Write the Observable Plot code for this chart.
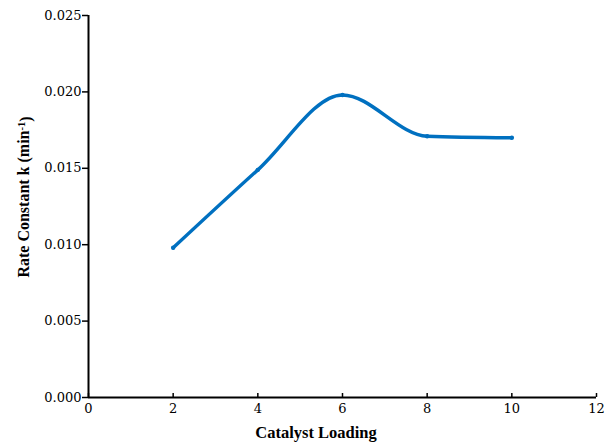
<!DOCTYPE html>
<html>
<head>
<meta charset="utf-8">
<script src="https://cdn.jsdelivr.net/npm/d3@7"></script>
<script src="https://cdn.jsdelivr.net/npm/@observablehq/plot@0.6"></script>
<style>
  html, body { margin: 0; padding: 0; background: #fff; }
</style>
</head>
<body>
<div id="chart"></div>
<script>
const loading = [2, 4, 6, 8, 10];
const rateK = [0.0098, 0.0149, 0.0198, 0.0171, 0.0170];
const xTicks = [0, 2, 4, 6, 8, 10, 12];
const yTicks = [0, 0.005, 0.010, 0.015, 0.020, 0.025];
const xLabel = "Catalyst Loading";
const yLabelMain = "Rate Constant k (min";
const yLabelSup = "-1";
const yLabelEnd = ")";

const data = loading.map((x, i) => ({x, y: rateK[i]}));
const serif = "'DejaVu Serif', 'Liberation Serif', serif";
const titleFont = "'Liberation Serif', 'DejaVu Serif', serif";

const chart = Plot.plot({
  width: 616,
  height: 444,
  marginLeft: 88,
  marginRight: 20,
  marginTop: 15,
  marginBottom: 47,
  style: {fontFamily: serif, fontSize: "13px", color: "#000", background: "#fff"},
  x: {domain: [0, 12]},
  y: {domain: [0, 0.025]},
  marks: [
    Plot.axisY({ticks: yTicks, tickFormat: d3.format(".3f"), tickSize: 6, tickPadding: 1,
      label: null, stroke: "#000", strokeWidth: 1.5}),
    Plot.axisX({ticks: xTicks, tickSize: 4, dy: -4, tickFormat: () => "", label: null, stroke: "#000", strokeWidth: 1.5}),
    Plot.axisX({ticks: xTicks, tickSize: 0, tickPadding: 6, tickFormat: d3.format("d"), label: null}),
    Plot.ruleX([0], {stroke: "#000", strokeWidth: 2}),
    Plot.ruleY([0], {stroke: "#000", strokeWidth: 2}),
    Plot.line(data, {x: "x", y: "y", curve: "monotone-x", stroke: "#0070C0", strokeWidth: 3.5, strokeLinecap: "round"}),
    Plot.dot(data, {x: "x", y: "y", r: 2.2, fill: "#0070C0"})
  ]
});

const svg = d3.select(chart);
svg.append("text")
  .attr("x", 316).attr("y", 438)
  .attr("text-anchor", "middle")
  .style("font-family", titleFont).style("font-size", "16.5px").style("font-weight", "bold")
  .attr("fill", "#000")
  .text(xLabel);

const yl = svg.append("text")
  .attr("transform", "translate(29,197) rotate(-90)")
  .attr("text-anchor", "middle")
  .style("font-family", titleFont).style("font-size", "16px").style("font-weight", "bold")
  .attr("fill", "#000");
yl.append("tspan").text(yLabelMain);
yl.append("tspan").attr("dy", "-0.4em").style("font-size", "10.5px").text(yLabelSup);
yl.append("tspan").attr("dy", "0.4em").text(yLabelEnd);

document.getElementById("chart").appendChild(chart);
</script>
</body>
</html>
